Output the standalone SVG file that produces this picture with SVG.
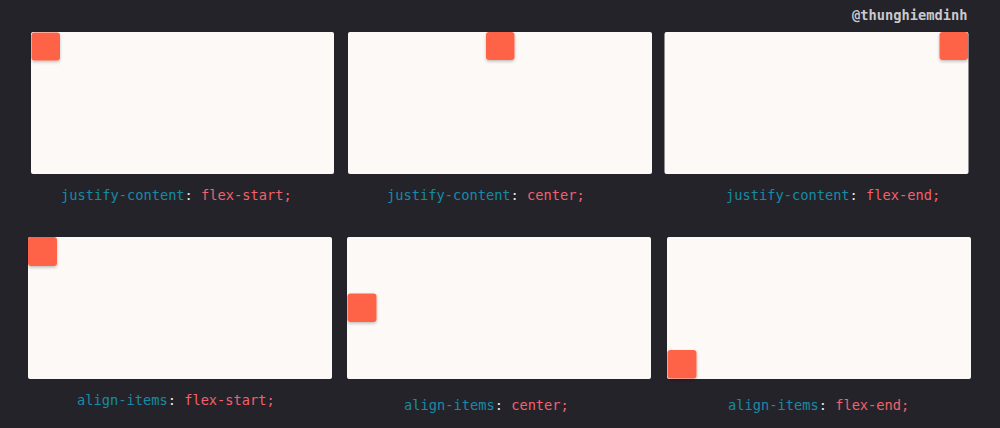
<svg xmlns="http://www.w3.org/2000/svg" width="1000" height="428" viewBox="0 0 1000 428">
<style>
.box{fill:#fdf9f7;}
.sq{fill:#ff6347;filter:url(#sh);}
.lbl{font-family:"DejaVu Sans Mono","Liberation Mono",monospace;font-size:13.7px;}
.p{fill:#168ba6;}
.c{fill:#e8e8e8;}
.v{fill:#f2616c;}
.wm{font-family:"DejaVu Sans Mono","Liberation Mono",monospace;font-size:13.7px;font-weight:bold;fill:#c9c9cc;}
</style>
<defs>
<filter id="sh" x="-30%" y="-30%" width="160%" height="170%">
<feDropShadow dx="0" dy="1.5" stdDeviation="1.5" flood-color="#000" flood-opacity="0.25"/>
</filter>
</defs>
<rect x="0" y="0" width="1000" height="428" fill="#25232a"/>
<text class="wm" x="852" y="20">@thunghiemdinh</text>
<g id="jc-start">
<rect class="box" x="31" y="32" width="303" height="142" rx="2"/>
<rect class="sq" x="31.5" y="32.5" width="28.5" height="28" rx="3"/>
<text class="lbl" x="61" y="200"><tspan class="p">justify-content</tspan><tspan class="c">:</tspan><tspan class="v"> flex-start;</tspan></text>
</g>
<g id="jc-center">
<rect class="box" x="348" y="32" width="304" height="142" rx="2"/>
<rect class="sq" x="486" y="32" width="28.5" height="28" rx="3"/>
<text class="lbl" x="387" y="200"><tspan class="p">justify-content</tspan><tspan class="c">:</tspan><tspan class="v"> center;</tspan></text>
</g>
<g id="jc-end">
<rect class="box" x="664.5" y="32" width="304" height="142" rx="2"/>
<rect class="sq" x="939.5" y="32" width="28.5" height="28" rx="3"/>
<text class="lbl" x="726" y="200"><tspan class="p">justify-content</tspan><tspan class="c">:</tspan><tspan class="v"> flex-end;</tspan></text>
</g>
<g id="ai-start">
<rect class="box" x="28" y="237" width="304" height="142" rx="2"/>
<rect class="sq" x="28" y="237" width="29" height="29" rx="3"/>
<text class="lbl" x="77" y="405"><tspan class="p">align-items</tspan><tspan class="c">:</tspan><tspan class="v"> flex-start;</tspan></text>
</g>
<g id="ai-center">
<rect class="box" x="347" y="237" width="304" height="142" rx="2"/>
<rect class="sq" x="347.5" y="293.5" width="29" height="28.5" rx="3"/>
<text class="lbl" x="404" y="410"><tspan class="p">align-items</tspan><tspan class="c">:</tspan><tspan class="v"> center;</tspan></text>
</g>
<g id="ai-end">
<rect class="box" x="667" y="237" width="304" height="142" rx="2"/>
<rect class="sq" x="667.5" y="350" width="29" height="28.5" rx="3"/>
<text class="lbl" x="728" y="410"><tspan class="p">align-items</tspan><tspan class="c">:</tspan><tspan class="v"> flex-end;</tspan></text>
</g>
<g id="connectors"/>
</svg>
